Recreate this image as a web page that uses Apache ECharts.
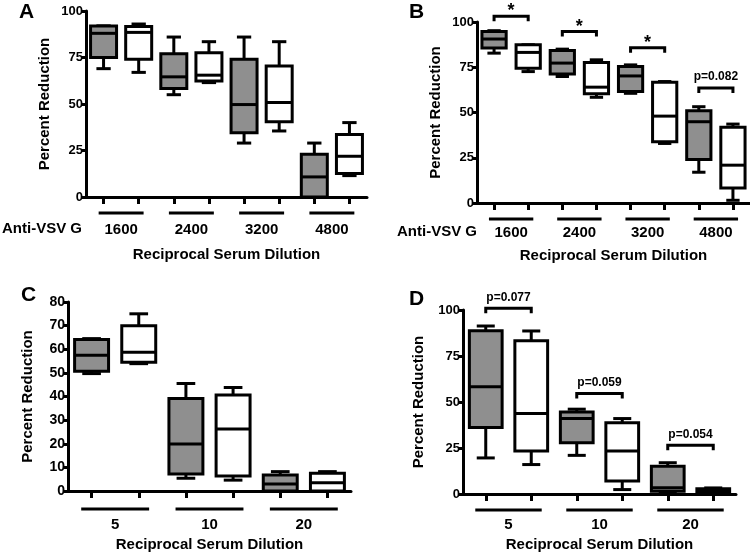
<!DOCTYPE html>
<html>
<head>
<meta charset="utf-8">
<script src="https://cdn.jsdelivr.net/npm/echarts@6/dist/echarts.min.js"></script>
<style>html,body{margin:0;padding:0;background:#fff}#c{width:750px;height:554px}</style>
</head>
<body>
<div id="c"></div>
<script>
// ---------- DATA ----------
const groupsAB = ['1600', '2400', '3200', '4800'];
const groupsCD = ['5', '10', '20'];
// each box: [min, q1, median, q3, max]
const boxesA_gray  = [[69, 75, 88, 92, 92], [55, 58.3, 64.6, 77, 86], [29, 34.6, 49.7, 74, 86], [0, 0, 10.8, 23, 29]];
const boxesA_white = [[67, 74, 88.5, 91.6, 93], [61.5, 62.3, 65.5, 77.6, 83.5], [35.5, 40.4, 50.8, 70.4, 83.5], [11.5, 12.6, 21.9, 33.6, 40]];
const boxesB_gray  = [[82.8, 85.6, 90.6, 94.8, 95.2], [69.9, 71.3, 77.3, 84.3, 85], [60.6, 61.6, 70.2, 75.4, 76.3], [17, 24, 44.9, 51, 53.2]];
const boxesB_white = [[72.6, 74.5, 83.2, 87.4, 87.4], [58.4, 60.3, 64, 77.6, 79.1], [32.9, 33.8, 48, 66.7, 67.1], [1.5, 8.3, 20.9, 41.8, 43.6]];
const boxesC_gray  = [[49.7, 50.7, 57.5, 64.1, 64.5], [5.4, 7.2, 19.9, 39.2, 45.5], [0, 0, 3, 6.8, 8.2]];
const boxesC_white = [[53.9, 54.5, 58.7, 69.9, 75], [4.6, 6.3, 26.2, 40.6, 43.8], [0, 0, 3.5, 7.5, 8.2]];
const boxesD_gray  = [[19.6, 36.1, 58.3, 88.7, 91.3], [21, 27.9, 41, 44.6, 46.1], [1.1, 1.5, 3.4, 15.1, 17]];
const boxesD_white = [[16, 23.4, 43.7, 83.3, 88.6], [2.4, 7.1, 23.4, 38.7, 41], [0.5, 0.5, 1.6, 2.9, 3.3]];
// significance brackets: pairs of box slots, height, label
const bracketsB_slots = [[0, 1], [2, 3], [4, 5], [6, 7]];
const bracketsB_y = [103.2, 94.7, 85.8, 63.6];
const bracketsB_text = ['*', '*', '*', 'p=0.082'];
const bracketsD_slots = [[0, 1], [2, 3], [4, 5]];
const bracketsD_y = [100.9, 54.6, 26.5];
const bracketsD_text = ['p=0.077', 'p=0.059', 'p=0.054'];
const xTitle = 'Reciprocal Serum Dilution';
const yTitle = 'Percent Reduction';

// ---------- HELPERS ----------
const FONT = 'Liberation Sans';
const GRAY = '#8f8f8f';

function slotsOf(groups) {
  const s = [];
  groups.forEach(g => { s.push(g + ' a'); s.push(g + ' b'); });
  return s;
}
function boxData(gray, white) {
  const d = [];
  gray.forEach((b, i) => {
    d.push([2 * i].concat(b).concat([0]));
    d.push([2 * i + 1].concat(white[i]).concat([1]));
  });
  return d;
}
function boxRender(frac) {
  return function (params, api) {
    const s = api.value(0);
    const pts = [1, 2, 3, 4, 5].map(i => api.coord([s, api.value(i)]));
    const cx = pts[0][0];
    const slot = api.size([1, 0])[0];
    const bw = slot * frac, cw = bw * 0.55;
    const yMin = pts[0][1], yQ1 = pts[1][1], yMed = pts[2][1], yQ3 = pts[3][1], yMax = pts[4][1];
    const fill = api.value(6) === 0 ? GRAY : '#ffffff';
    const ls = { stroke: '#000', lineWidth: 3, fill: null };
    return {
      type: 'group',
      children: [
        { type: 'line', shape: { x1: cx, y1: yQ3, x2: cx, y2: yMax }, style: ls },
        { type: 'line', shape: { x1: cx - cw / 2, y1: yMax, x2: cx + cw / 2, y2: yMax }, style: ls },
        { type: 'line', shape: { x1: cx, y1: yQ1, x2: cx, y2: yMin }, style: ls },
        { type: 'line', shape: { x1: cx - cw / 2, y1: yMin, x2: cx + cw / 2, y2: yMin }, style: ls },
        { type: 'rect', shape: { x: cx - bw / 2, y: yQ3, width: bw, height: yQ1 - yQ3 }, style: { fill: fill, stroke: '#000', lineWidth: 3 } },
        { type: 'line', shape: { x1: cx - bw / 2, y1: yMed, x2: cx + bw / 2, y2: yMed }, style: ls }
      ]
    };
  };
}
function underlineRender(frac, off) {
  return function (params, api) {
    const p = api.coord([api.value(0), 0]);
    const w = api.size([1, 0])[0] * frac;
    return { type: 'line', shape: { x1: p[0] - w / 2, y1: p[1] + off, x2: p[0] + w / 2, y2: p[1] + off }, style: { stroke: '#000', lineWidth: 3 } };
  };
}
function bracketRender(texts) {
  return function (params, api) {
    const p1 = api.coord([api.value(0), api.value(2)]);
    const p2 = api.coord([api.value(1), api.value(2)]);
    const y = p1[1];
    const t = texts[params.dataIndex];
    const star = t === '*';
    return {
      type: 'group',
      children: [
        { type: 'polyline', shape: { points: [[p1[0], y + 5], [p1[0], y], [p2[0], y], [p2[0], y + 5]] }, style: { stroke: '#000', lineWidth: 3, fill: null } },
        { type: 'text', x: (p1[0] + p2[0]) / 2, y: star ? y - 5 : y - 11,
          style: { text: t, fill: '#000', font: 'bold ' + (star ? 18 : 12) + 'px "' + FONT + '"', align: 'center', verticalAlign: 'middle' } }
      ]
    };
  };
}

const grids = [
  { left: 86, top: 11, width: 281, height: 186 },
  { left: 477, top: 22, width: 273, height: 181 },
  { left: 68, top: 302, width: 283, height: 189 },
  { left: 463, top: 310, width: 273, height: 184 }
];
const panelGroups = [groupsAB, groupsAB, groupsCD, groupsCD];
const yMax = [100, 100, 80, 100];
const yInt = [25, 25, 10, 25];
const yTickFont = [13, 13, 14, 13];
const yNameGap = [34, 34, 33, 37];
const grpLabelMargin = [25, 22, 26, 23];
const xNameGap = [50, 45, 46, 43];
const boxFrac = [0.74, 0.71, 0.72, 0.72];
const ulFrac = [0.64, 0.65, 0.72, 0.73];
const ulOff = [16, 16, 18, 16];
const panelBoxes = [[boxesA_gray, boxesA_white], [boxesB_gray, boxesB_white], [boxesC_gray, boxesC_white], [boxesD_gray, boxesD_white]];

const xAxes = [], yAxes = [], series = [];
grids.forEach((g, i) => {
  const groups = panelGroups[i];
  xAxes.push({
    gridIndex: i, type: 'category', data: slotsOf(groups), boundaryGap: true,
    axisLine: { show: true, lineStyle: { color: '#000', width: 3 } },
    axisTick: { show: true, alignWithLabel: true, interval: 0, length: 7, lineStyle: { color: '#000', width: 3 } },
    axisLabel: { show: false }, splitLine: { show: false }
  });
  xAxes.push({
    gridIndex: i, type: 'category', data: groups, position: 'bottom', boundaryGap: true,
    axisLine: { show: false }, axisTick: { show: false },
    axisLabel: { show: true, interval: 0, margin: grpLabelMargin[i], color: '#000', fontFamily: FONT, fontWeight: 'bold', fontSize: 15 },
    name: xTitle, nameLocation: 'middle', nameGap: xNameGap[i],
    nameTextStyle: { color: '#000', fontFamily: FONT, fontWeight: 'bold', fontSize: 15 }
  });
  yAxes.push({
    gridIndex: i, type: 'value', min: 0, max: yMax[i], interval: yInt[i],
    axisLine: { show: true, lineStyle: { color: '#000', width: 3 } },
    axisTick: { show: true, length: 5, lineStyle: { color: '#000', width: 3 } },
    axisLabel: { margin: 3, color: '#000', fontFamily: FONT, fontWeight: 'bold', fontSize: yTickFont[i] },
    splitLine: { show: false },
    name: yTitle, nameLocation: 'middle', nameGap: yNameGap[i],
    nameTextStyle: { color: '#000', fontFamily: FONT, fontWeight: 'bold', fontSize: 15 }
  });
  series.push({
    type: 'custom', xAxisIndex: 2 * i, yAxisIndex: i, clip: false,
    data: boxData(panelBoxes[i][0], panelBoxes[i][1]),
    encode: { x: 0, y: [1, 2, 3, 4, 5] },
    renderItem: boxRender(boxFrac[i]), silent: true, z: 5
  });
  series.push({
    type: 'custom', xAxisIndex: 2 * i + 1, yAxisIndex: i, clip: false,
    data: groups.map((_, k) => [k, 0]),
    encode: { x: 0, y: 1 },
    renderItem: underlineRender(ulFrac[i], ulOff[i]), silent: true
  });
});
series.push({
  type: 'custom', xAxisIndex: 2, yAxisIndex: 1, clip: false,
  data: bracketsB_slots.map((s, k) => [s[0], s[1], bracketsB_y[k]]),
  encode: { x: [0, 1], y: 2 },
  renderItem: bracketRender(bracketsB_text), silent: true
});
series.push({
  type: 'custom', xAxisIndex: 6, yAxisIndex: 3, clip: false,
  data: bracketsD_slots.map((s, k) => [s[0], s[1], bracketsD_y[k]]),
  encode: { x: [0, 1], y: 2 },
  renderItem: bracketRender(bracketsD_text), silent: true
});

const chart = echarts.init(document.getElementById('c'), null, { renderer: 'canvas' });
chart.setOption({
  animation: false,
  backgroundColor: '#fff',
  grid: grids.map(g => Object.assign({ containLabel: false }, g)),
  xAxis: xAxes,
  yAxis: yAxes,
  series: series,
  graphic: [
    { type: 'text', left: 19, top: 2, style: { text: 'A', fill: '#000', font: 'bold 21px "' + FONT + '"' } },
    { type: 'text', left: 409, top: 2, style: { text: 'B', fill: '#000', font: 'bold 21px "' + FONT + '"' } },
    { type: 'text', left: 21, top: 285, style: { text: 'C', fill: '#000', font: 'bold 21px "' + FONT + '"' } },
    { type: 'text', left: 409, top: 289, style: { text: 'D', fill: '#000', font: 'bold 21px "' + FONT + '"' } },
    { type: 'text', left: 2, top: 221, style: { text: 'Anti-VSV G', fill: '#000', font: 'bold 15px "' + FONT + '"' } },
    { type: 'text', left: 397, top: 224, style: { text: 'Anti-VSV G', fill: '#000', font: 'bold 15px "' + FONT + '"' } }
  ]
});
</script>
</body>
</html>
